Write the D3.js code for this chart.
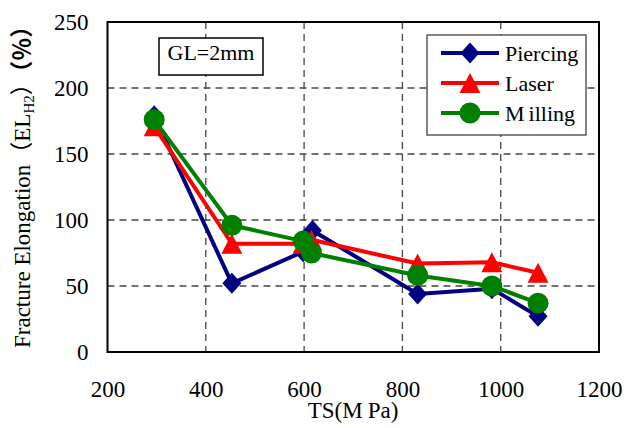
<!DOCTYPE html>
<html>
<head>
<meta charset="utf-8">
<script src="https://cdn.jsdelivr.net/npm/d3@7"></script>
<style>
  html, body { margin: 0; padding: 0; background: #fff; }
  svg { display: block; }
  text { font-family: "Liberation Serif", Tinos, "Times New Roman", Times, "DejaVu Serif", "Noto Serif", serif; fill: #000; }
</style>
</head>
<body>
<svg id="chart" width="634" height="428"></svg>
<script>
// ---- data ----
const seriesNames = ["Piercing", "Laser", "Milling"];
const piercingTS  = [295, 453, 598, 617, 831, 982, 1076];
const piercingEL  = [179, 52, 76, 92, 44, 48, 27];
const laserTS     = [295, 453, 598, 615, 831, 982, 1076];
const laserEL     = [171, 82, 82, 85, 67, 68, 60];
const millingTS   = [295, 453, 598, 615, 831, 982, 1076];
const millingEL   = [176, 96, 84, 75, 58, 50, 37];
const xTicks = [200, 400, 600, 800, 1000, 1200];
const yTicks = [0, 50, 100, 150, 200, 250];
const xGrid = [400, 600, 800, 1000];
const yGrid = [50, 100, 150, 200];

const FONT = '"Liberation Serif", Tinos, "Times New Roman", Times, "DejaVu Serif", "Noto Serif", serif';
const CJK = '"Noto Sans CJK JP", sans-serif';
const colors = { Piercing: "#000080", Laser: "#ff0000", Milling: "#008000" };
const symbols = { Piercing: "diamond", Laser: "triangle", Milling: "circle" };

const series = [
  { name: "Piercing", pts: piercingTS.map((t, i) => [t, piercingEL[i]]) },
  { name: "Laser",    pts: laserTS.map((t, i) => [t, laserEL[i]]) },
  { name: "Milling",  pts: millingTS.map((t, i) => [t, millingEL[i]]) }
];

const svg = d3.select("#chart");
const L = 107.5, R = 599, T = 22, B = 352;

const x = d3.scaleLinear().domain([200, 1200]).range([L, R]);
const y = d3.scaleLinear().domain([0, 250]).range([B, T]);

// gridlines
const g = svg.append("g");
g.selectAll(".vg").data(xGrid).enter().append("line")
  .attr("x1", d => x(d)).attr("x2", d => x(d))
  .attr("y1", T).attr("y2", B)
  .attr("stroke", "#444").attr("stroke-width", 1.3).attr("stroke-dasharray", "7,5");
g.selectAll(".hg").data(yGrid).enter().append("line")
  .attr("x1", L).attr("x2", R)
  .attr("y1", d => y(d)).attr("y2", d => y(d))
  .attr("stroke", "#444").attr("stroke-width", 1.3).attr("stroke-dasharray", "7,5");

// axes (labels only, via d3 axes)
const xAxis = d3.axisBottom(x).tickValues(xTicks).tickFormat(d3.format("d")).tickSize(0).tickPadding(0);
const yAxis = d3.axisLeft(y).tickValues(yTicks).tickFormat(d3.format("d")).tickSize(0).tickPadding(0);
const gx = svg.append("g").attr("transform", `translate(0,${B})`).call(xAxis)
  .attr("font-family", FONT).attr("font-size", 23);
gx.select(".domain").remove();
gx.selectAll("text").attr("y", 45).attr("dy", null).attr("fill", "#000");
const gy = svg.append("g").attr("transform", `translate(${L},0)`).call(yAxis)
  .attr("font-family", FONT).attr("font-size", 23);
gy.select(".domain").remove();
gy.selectAll("text").attr("x", -19).attr("dy", "0.33em").attr("fill", "#000");

// frame
svg.append("rect").attr("x", L).attr("y", T).attr("width", R - L).attr("height", B - T)
  .attr("fill", "none").attr("stroke", "#000").attr("stroke-width", 2);

// marker drawing
function drawMarker(sel, type, color) {
  if (type === "circle") {
    sel.append("circle").attr("r", 10.5).attr("fill", color);
  } else if (type === "diamond") {
    sel.append("path").attr("d", "M0,-10.5L9.5,0L0,10.5L-9.5,0Z").attr("fill", color);
  } else {
    sel.append("path").attr("d", "M0,-10L10.5,10L-10.5,10Z").attr("fill", color);
  }
}

const line = d3.line().x(d => x(d[0])).y(d => y(d[1]));
series.forEach(s => {
  const sg = svg.append("g");
  sg.append("path").datum(s.pts).attr("d", line)
    .attr("fill", "none").attr("stroke", colors[s.name]).attr("stroke-width", 4)
    .attr("stroke-linejoin", "round");
  s.pts.forEach(p => {
    const m = sg.append("g").attr("transform", `translate(${x(p[0])},${y(p[1])})`);
    drawMarker(m, symbols[s.name], colors[s.name]);
  });
});

// legend
const lg = svg.append("g");
lg.append("rect").attr("x", 427).attr("y", 35).attr("width", 159).attr("height", 100)
  .attr("fill", "#fff").attr("stroke", "#333").attr("stroke-width", 1.2);
seriesNames.forEach((n, i) => {
  const yy = 53 + i * 30;
  lg.append("line").attr("x1", 441).attr("x2", 499).attr("y1", yy).attr("y2", yy)
    .attr("stroke", colors[n]).attr("stroke-width", 4);
  const m = lg.append("g").attr("transform", `translate(470,${yy})`);
  drawMarker(m, symbols[n], colors[n]);
  const t = lg.append("text").attr("x", 505).attr("y", yy + 8).attr("font-family", FONT).attr("font-size", 22);
  if (n === "Milling") {
    t.append("tspan").text("M");
    t.append("tspan").attr("dx", 4).text("illing");
  } else {
    t.text(n);
  }
});

// GL box
svg.append("rect").attr("x", 159).attr("y", 38).attr("width", 104).attr("height", 37)
  .attr("fill", "#fff").attr("stroke", "#000").attr("stroke-width", 1.5);
svg.append("text").attr("x", 211).attr("y", 60).attr("text-anchor", "middle")
  .attr("font-family", FONT).attr("font-size", 22).text("GL=2mm");

// axis titles
const xt = svg.append("text").attr("x", 353).attr("y", 418).attr("text-anchor", "middle")
  .attr("font-family", FONT).attr("font-size", 23);
xt.append("tspan").text("TS(M");
xt.append("tspan").attr("dx", 5).text("Pa)");

const yt = svg.append("text").attr("transform", "translate(30,348) rotate(-90)")
  .attr("text-anchor", "start").attr("font-family", FONT).attr("font-size", 23);
yt.append("tspan").text("Fracture Elongation");
yt.append("tspan").attr("font-family", CJK).text("（");
yt.append("tspan").text("EL");
yt.append("tspan").attr("dy", 4).attr("font-size", 15).text("H2");
yt.append("tspan").attr("dy", -4).attr("font-family", CJK).text("）");
yt.append("tspan").attr("font-family", CJK).attr("font-weight", 700).text("（％）");
</script>
</body>
</html>
